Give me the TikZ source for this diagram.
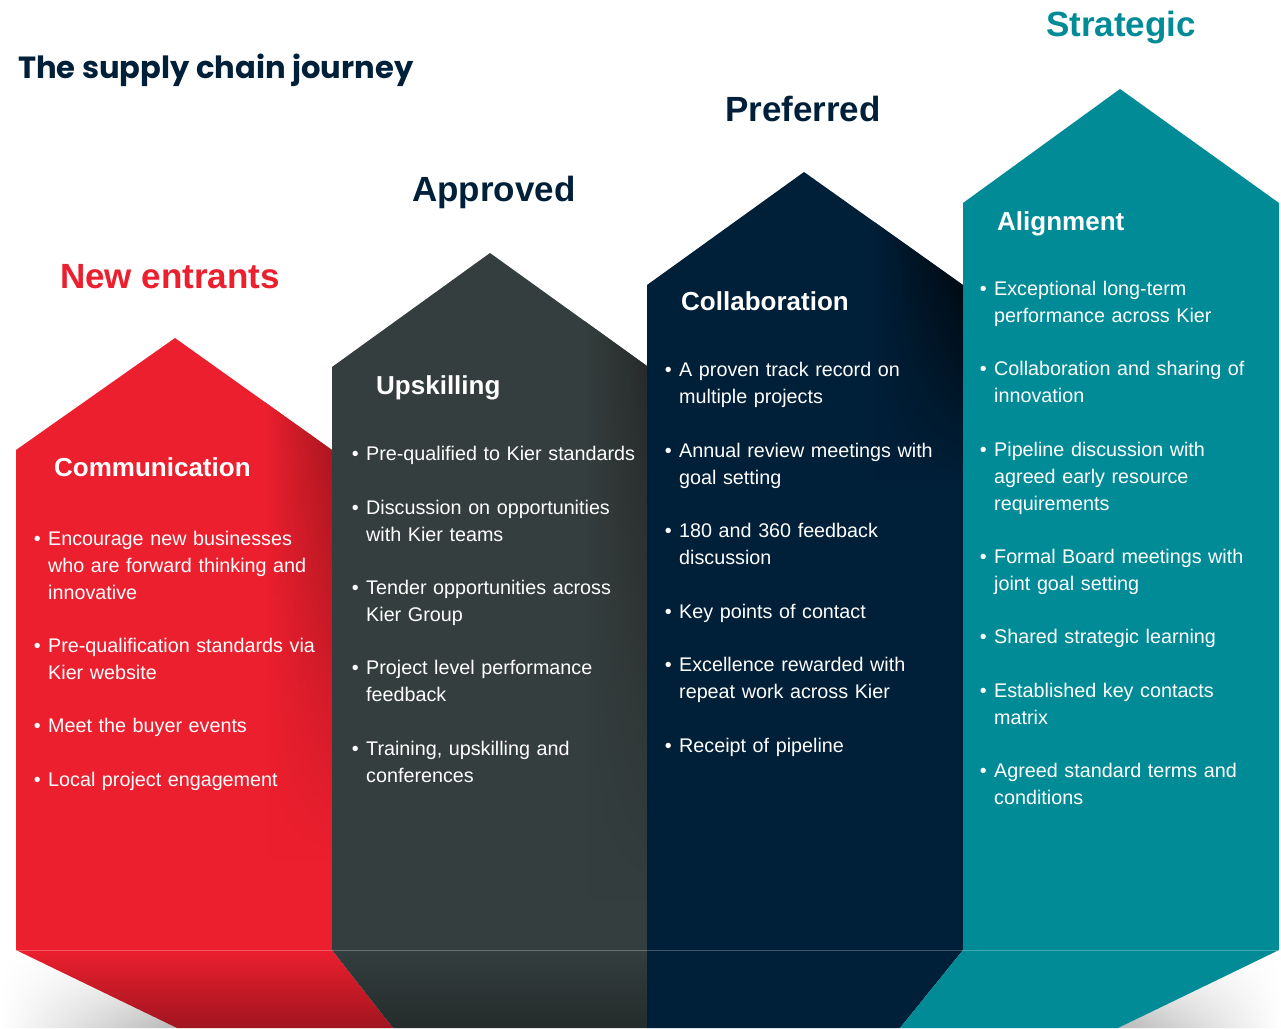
\documentclass[tikz,border=0pt]{standalone}
\usepackage{fontspec}
\setmainfont{Liberation Sans}
\newfontfamily\titlefont{Poppins}
\usetikzlibrary{fadings}

\definecolor{kierred}{HTML}{EC1F2E}
\definecolor{kiergray}{HTML}{343E3E}
\definecolor{kiernavy}{HTML}{001F38}
\definecolor{kierteal}{HTML}{008B97}

\tikzfading[name=fadedown, top color=transparent!0, bottom color=transparent!100]
\tikzfading[name=fadeleft, left color=transparent!100, right color=transparent!0]
\tikzfading[name=faderight, left color=transparent!0, right color=transparent!100]

\newcommand\kbullet{\llap{\textbullet\hspace{7.5pt}}}

\tikzset{
  stage/.style={anchor=base west, inner sep=0pt, font=\fontsize{35}{40}\selectfont\bfseries},
  section/.style={anchor=base west, inner sep=0pt, text=white, font=\fontsize{26}{30}\selectfont\bfseries},
  item/.style={anchor=base west, inner sep=0pt, text=white, text width=300pt, align=left, font=\fontsize{19.75}{26.8}\selectfont},
}

\begin{document}
\begin{tikzpicture}[x=1pt,y=-1pt]
        \useasboundingbox (0,0) rectangle (1281,1028);

        % shadows under the base
        \shade[top color=white, bottom color=black!28, path fading=fadeleft] (0,950) -- (16,950) -- (177,1028) -- (0,1028) -- cycle;
        \shade[top color=white, bottom color=black!28, path fading=faderight] (1281,950) -- (1279,950) -- (1118,1028) -- (1281,1028) -- cycle;

        % columns
        \fill[kierred] (16,950) -- (16,450) -- (175,338) -- (332,450) -- (332,950) -- cycle;
        \fill[kiergray] (332,950) -- (332,367) -- (490,253) -- (647,366) -- (647,950) -- cycle;
        \fill[kiernavy] (647,950) -- (647,285) -- (804,172) -- (963,285) -- (963,950) -- cycle;
        \fill[kierteal] (963,950) -- (963,203) -- (1120,89) -- (1279,203) -- (1279,950) -- cycle;

        % darker edges
        \begin{scope}
          \clip (16,950) -- (16,450) -- (175,338) -- (332,450) -- (332,950) -- cycle;
          \shade[left color=kierred, right color=kierred!65!black, path fading=fadedown] (265,330) rectangle (332,860);
        \end{scope}
        \begin{scope}
          \clip (332,950) -- (332,367) -- (490,253) -- (647,366) -- (647,950) -- cycle;
          \shade[left color=kiergray, right color=black!85, path fading=fadedown] (585,250) rectangle (647,900);
        \end{scope}
        \begin{scope}
          \clip (647,950) -- (647,285) -- (804,172) -- (963,285) -- (963,950) -- cycle;
          \shade[left color=kiernavy, right color=black, path fading=fadedown] (875,170) rectangle (963,480);
        \end{scope}

        % base
        \shade[top color=kierred, middle color=kierred, bottom color=kierred!68!black] (16,950) -- (332,950) -- (393,1028) -- (177,1028) -- cycle;
        \shade[top color=kiergray, middle color=kiergray, bottom color=kiergray!70!black] (332,950) -- (647,950) -- (647,1028) -- (393,1028) -- cycle;
        \fill[kiernavy] (647,950) -- (963,950) -- (900,1028) -- (647,1028) -- cycle;
        \fill[kierteal] (963,950) -- (1279,950) -- (1118,1028) -- (900,1028) -- cycle;
        \draw[white, opacity=.25, line width=1pt] (16,950.5) -- (1279,950.5);

        % titles
        \node[anchor=base west, inner sep=0pt, text=kiernavy, font=\titlefont\bfseries\fontsize{30.6}{36}\selectfont] (title) at (18,78.5) {The supply chain journey};
        \node[stage, text=kierred] (newentrants) at (60,288.5) {New entrants};
        \node[stage, text=kiernavy] (approved) at (412,201) {Approved};
        \node[stage, text=kiernavy] (preferred) at (725,121.5) {Preferred};
        \node[stage, text=kierteal] (strategic) at (1046,36) {Strategic};

        \node[section] (communication) at (54,476.5) {Communication};
        \node[section] (upskilling) at (376,394) {Upskilling};
        \node[section] (collaboration) at (681,310.5) {Collaboration};
        \node[section] (alignment) at (997,230) {Alignment};

        % new entrants
        \node[item] (ne1) at (48,545.5) {\kbullet Encourage new businesses\\who are forward thinking and\\innovative};
        \node[item] (ne2) at (48,652.5) {\kbullet Pre-qualification standards via\\Kier website};
        \node[item] (ne3) at (48,732.5) {\kbullet Meet the buyer events};
        \node[item] (ne4) at (48,786.5) {\kbullet Local project engagement};

        % approved
        \node[item] (ap1) at (366,460.5) {\kbullet Pre-qualified to Kier standards};
        \node[item] (ap2) at (366,514.5) {\kbullet Discussion on opportunities\\with Kier teams};
        \node[item] (ap3) at (366,594.5) {\kbullet Tender opportunities across\\Kier Group};
        \node[item] (ap4) at (366,674.5) {\kbullet Project level performance\\feedback};
        \node[item] (ap5) at (366,755.5) {\kbullet Training, upskilling and\\conferences};

        % preferred
        \node[item] (pr1) at (679,376.5) {\kbullet A proven track record on\\multiple projects};
        \node[item] (pr2) at (679,457.5) {\kbullet Annual review meetings with\\goal setting};
        \node[item] (pr3) at (679,537.5) {\kbullet 180 and 360 feedback\\discussion};
        \node[item] (pr4) at (679,618.5) {\kbullet Key points of contact};
        \node[item] (pr5) at (679,671.5) {\kbullet Excellence rewarded with\\repeat work across Kier};
        \node[item] (pr6) at (679,752.5) {\kbullet Receipt of pipeline};

        % strategic
        \node[item] (st1) at (994,295.5) {\kbullet Exceptional long-term\\performance across Kier};
        \node[item] (st2) at (994,375.5) {\kbullet Collaboration and sharing of\\innovation};
        \node[item] (st3) at (994,456.5) {\kbullet Pipeline discussion with\\agreed early resource\\requirements};
        \node[item] (st4) at (994,563.5) {\kbullet Formal Board meetings with\\joint goal setting};
        \node[item] (st5) at (994,643.5) {\kbullet Shared strategic learning};
        \node[item] (st6) at (994,697.5) {\kbullet Established key contacts\\matrix};
        \node[item] (st7) at (994,777.5) {\kbullet Agreed standard terms and\\conditions};

\end{tikzpicture}
\end{document}
